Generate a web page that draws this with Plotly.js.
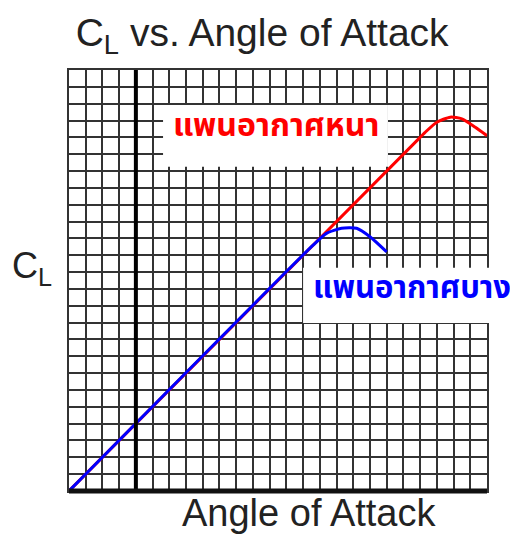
<!DOCTYPE html>
<html>
<head>
<meta charset="utf-8">
<script src="https://cdn.plot.ly/plotly-3.0.1.min.js"></script>
<style>
  html, body { margin: 0; padding: 0; background: #fff; }
  #chart { width: 510px; height: 534px; }
</style>
</head>
<body>
<div id="chart"></div>
<script>
// Thick wing: lift keeps rising to a higher, later stall
const thickAngle = [0, 20.6, 21.3, 22.0, 22.8, 23.5, 24.3, 25.0];
const thickCL    = [0, 20.6, 21.3, 21.9, 22.2, 22.1, 21.6, 21.1];

// Thin wing: same slope, stalls earlier
const thinAngle = [0, 14.6, 15.4, 16.3, 17.2, 18.0, 19.0];
const thinCL    = [0, 14.6, 15.3, 15.6, 15.6, 15.1, 14.2];

const thickLabel = 'แพนอากาศหนา';
const thinLabel  = 'แพนอากาศบาง';
const xLabel = 'Angle of Attack';

const gridColor = '#333';
const latin = 'Liberation Sans, Arial, sans-serif';
const thai = 'Noto Sans Thai, Tahoma, DejaVu Sans, sans-serif';

const traces = [
  { x: thickAngle, y: thickCL, mode: 'lines', line: { color: '#ff0000', width: 3, shape: 'spline', smoothing: 0.6 }, hoverinfo: 'skip' },
  { x: thinAngle,  y: thinCL,  mode: 'lines', line: { color: '#0000ff', width: 3, shape: 'spline', smoothing: 0.6 }, hoverinfo: 'skip' }
];

const layout = {
  width: 510, height: 534,
  margin: { l: 69, r: 23, t: 70, b: 43 },
  paper_bgcolor: '#fff', plot_bgcolor: '#fff',
  showlegend: false,
  title: {
    text: 'C<sub>L</sub> vs. Angle of Attack',
    font: { family: latin, size: 39, color: '#222' },
    x: 0.514, xanchor: 'center', xref: 'container',
    y: 0.94, yanchor: 'middle', yref: 'container'
  },
  xaxis: {
    range: [0, 25], dtick: 1, tick0: 0,
    showgrid: true, gridcolor: gridColor, gridwidth: 2,
    zeroline: false, showticklabels: false, ticks: '',
    showline: true, linecolor: gridColor, linewidth: 2, mirror: true,
    fixedrange: true
  },
  yaxis: {
    range: [0, 25], dtick: 1, tick0: 0,
    showgrid: true, gridcolor: gridColor, gridwidth: 2,
    zeroline: false, showticklabels: false, ticks: '',
    showline: true, linecolor: gridColor, linewidth: 2, mirror: true,
    fixedrange: true
  },
  shapes: [
    // heavy reference line at angle 4
    { type: 'line', xref: 'x', yref: 'paper', x0: 4, x1: 4, y0: 0, y1: 1, line: { color: '#000', width: 4 }, layer: 'above' },
    // heavy baseline
    { type: 'line', xref: 'paper', yref: 'paper', x0: 0, x1: 1, y0: 0, y1: 0, line: { color: '#111', width: 5 }, layer: 'above' },
    // white panels behind the curve labels
    { type: 'rect', xref: 'paper', yref: 'paper', x0: 0.225, x1: 0.763, y0: 0.770, y1: 0.917, fillcolor: '#fff', line: { width: 0 }, layer: 'above' },
    { type: 'rect', xref: 'paper', yref: 'paper', x0: 0.560, x1: 1.02, y0: 0.399, y1: 0.530, fillcolor: '#fff', line: { width: 0 }, layer: 'above' }
  ],
  annotations: [
    { text: '<b>' + thickLabel + '</b>', xref: 'paper', yref: 'paper', x: 0.495, y: 0.867,
      xanchor: 'center', yanchor: 'middle', showarrow: false,
      font: { family: thai, size: 32, color: '#ff0000' } },
    { text: '<b>' + thinLabel + '</b>', xref: 'paper', yref: 'paper', x: 0.82, y: 0.482,
      xanchor: 'center', yanchor: 'middle', showarrow: false,
      font: { family: thai, size: 31, color: '#0000ff' } },
    { text: 'C<sub>L</sub>', xref: 'paper', yref: 'paper', x: -0.0885, y: 0.53,
      xanchor: 'center', yanchor: 'middle', showarrow: false,
      font: { family: latin, size: 36, color: '#222' } },
    { text: xLabel, xref: 'paper', yref: 'paper', x: 0.573, y: -0.052,
      xanchor: 'center', yanchor: 'middle', showarrow: false,
      font: { family: latin, size: 38, color: '#222' } }
  ]
};

Plotly.newPlot('chart', traces, layout, { staticPlot: true, displayModeBar: false });
</script>
</body>
</html>
